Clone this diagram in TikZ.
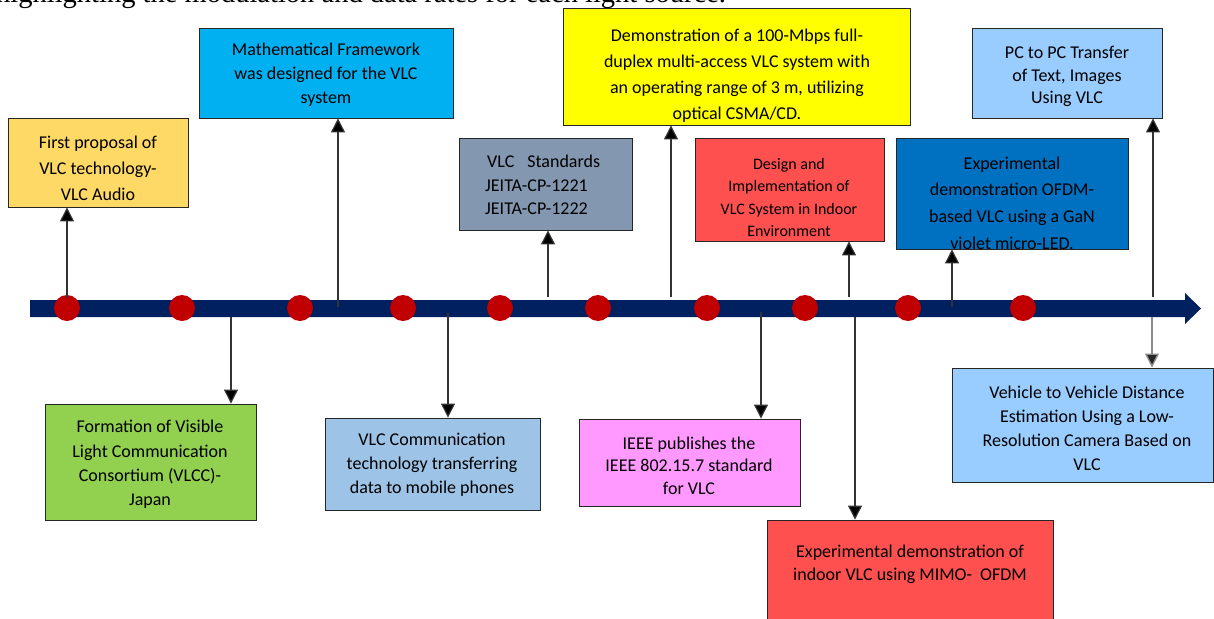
\documentclass[tikz,border=0pt]{standalone}
\usepackage{fontspec}
\setmainfont{Carlito}
\newfontfamily\serifcut{Liberation Serif}
\usetikzlibrary{arrows.meta}
\definecolor{navybar}{HTML}{002060}
\definecolor{dotred}{HTML}{C00000}
\definecolor{cgold}{HTML}{FFD966}
\definecolor{ccyan}{HTML}{00B0F0}
\definecolor{cyellow}{HTML}{FFFF00}
\definecolor{cslate}{HTML}{8497B0}
\definecolor{cred}{HTML}{FF5050}
\definecolor{cdblue}{HTML}{0070C0}
\definecolor{clblue}{HTML}{99CCFF}
\definecolor{cgreen}{HTML}{92D050}
\definecolor{csteel}{HTML}{9DC3E6}
\definecolor{cpink}{HTML}{FF99FF}
\begin{document}
\begin{tikzpicture}[x=1pt,y=-1pt,
  box/.style={draw=black!85, line width=0.9pt, inner sep=0pt},
  txt/.style={inner sep=0pt, align=center, text=black},
  arr/.style={draw=black!80, line width=1.2pt, -{Triangle[width=14pt,length=14pt,fill=black]}},
  grayarr/.style={draw=black!45, line width=1.4pt, -{Triangle[width=14pt,length=14pt,fill=black!85]}},
  tldot/.style={circle, fill=dotred, minimum size=26pt, inner sep=0pt}]
\useasboundingbox (0,0) rectangle (1214,618);
\clip (0,0) rectangle (1214,618);
\fill[white] (0,0) rectangle (1214,618);

% cut-off page text at the top
\node[anchor=base west, inner sep=0pt, font=\serifcut\fontsize{28.5}{30}\selectfont] (pagetext) at (-4,2.5) {highlighting the modulation and data rates for each light source.};

% timeline bar
\fill[navybar] (30,300) -- (1185,300) -- (1185,293) -- (1201,308.5) -- (1185,324) -- (1185,317) -- (30,317) -- cycle;

% dots
\foreach \x [count=\i] in {67,182,300,403,500,598,707,805,908,1023}
  \node[tldot] (dot\i) at (\x,308) {};

% connector start points on the bar
\coordinate (c1) at (67,298);
\coordinate (c2) at (338,307);
\coordinate (c3) at (548,297);
\coordinate (c4) at (671,297);
\coordinate (c5) at (849,297);
\coordinate (c6) at (952,307);
\coordinate (c7) at (1153,297);
\coordinate (e1) at (231,317);
\coordinate (e2) at (448,313);
\coordinate (e3) at (761,312);
\coordinate (e4) at (855,317);
\coordinate (e5) at (1152,317);

% boxes
\node[box, fill=cgold, minimum width=180pt, minimum height=89pt] (b1) at (98,162.5) {};
\node[box, fill=ccyan, minimum width=254pt, minimum height=90pt] (b2) at (326,73) {};
\node[box, fill=cyellow, minimum width=347pt, minimum height=117pt] (b3) at (736.5,66.5) {};
\node[box, fill=cslate, minimum width=173pt, minimum height=92pt] (b4) at (545.5,184) {};
\node[box, fill=cred, minimum width=189pt, minimum height=103pt] (b5) at (789.5,189.5) {};
\node[box, fill=cdblue, minimum width=232pt, minimum height=111pt] (b6) at (1012,193.5) {};
\node[box, fill=clblue, minimum width=190pt, minimum height=90pt] (b7) at (1067,73) {};
\node[box, fill=cgreen, minimum width=211pt, minimum height=116pt] (b8) at (150.5,462) {};
\node[box, fill=csteel, minimum width=215pt, minimum height=92pt] (b9) at (432.5,464) {};
\node[box, fill=cpink, minimum width=221pt, minimum height=87pt] (b10) at (689.5,462.5) {};
\node[box, fill=cred, minimum width=286pt, minimum height=120pt] (b11) at (910,580) {};
\node[box, fill=clblue, minimum width=261pt, minimum height=114pt] (b12) at (1082.5,425) {};

% connectors
\draw[arr] (c1) -- (c1 |- b1.south);
\draw[arr] (c2) -- (c2 |- b2.south);
\draw[arr] (c3) -- (c3 |- b4.south);
\draw[arr] (c4) -- (c4 |- b3.south);
\draw[arr] (c5) -- (c5 |- b5.south);
\draw[arr] (c6) -- (c6 |- b6.south);
\draw[arr] (c7) -- (c7 |- b7.south);
\draw[arr] (e1) -- (e1 |- b8.north);
\draw[arr] (e2) -- (e2 |- b9.north);
\draw[arr] (e3) -- (e3 |- b10.north);
\draw[arr] (e4) -- (e4 |- b11.north);
\draw[grayarr] (e5) -- (e5 |- b12.north);

% texts
\node[txt, font=\fontsize{18}{26}\selectfont] (t1) at (98,168) {First proposal of\\VLC technology-\\VLC Audio};
\node[txt, font=\fontsize{18}{24}\selectfont] (t2) at (326,75) {Mathematical Framework\\was designed for the VLC\\system};
\node[txt, font=\fontsize{18}{26}\selectfont] (t3) at (737,76) {Demonstration of a 100-Mbps full-\\duplex multi-access VLC system with\\an operating range of 3 m, utilizing\\optical CSMA/CD.};
\node[txt, align=left, anchor=west, font=\fontsize{18}{23.5}\selectfont] (t4) at (485,185) {\hspace{2pt}VLC\hspace{13pt}Standards\\JEITA-CP-1221\\JEITA-CP-1222};
\node[txt, font=\fontsize{16}{22.5}\selectfont] (t5) at (789,197.5) {Design and\\Implementation of\\VLC System in Indoor\\Environment};
\node[txt, font=\fontsize{18}{26.7}\selectfont] (t6) at (1012,203) {Experimental\\demonstration OFDM-\\based VLC using a GaN\\violet micro-LED.};
\node[txt, font=\fontsize{18}{22.5}\selectfont] (t7) at (1067,76.5) {PC to PC Transfer\\of Text, Images\\Using VLC};
\node[txt, font=\fontsize{18}{24.3}\selectfont] (t8) at (150,464.5) {Formation of Visible\\Light Communication\\Consortium (VLCC)-\\Japan};
\node[txt, font=\fontsize{18}{24}\selectfont] (t9) at (432,465) {VLC Communication\\technology transferring\\data to mobile phones};
\node[txt, font=\fontsize{18}{22.5}\selectfont] (t10) at (689,465.5) {IEEE publishes the\\IEEE 802.15.7 standard\\for VLC};
\node[txt, font=\fontsize{18}{23}\selectfont] (t11) at (910,564.5) {Experimental demonstration of\\indoor VLC using MIMO-\hspace{8pt}OFDM};
\node[txt, font=\fontsize{18}{24}\selectfont] (t12) at (1087,428) {Vehicle to Vehicle Distance\\Estimation Using a Low-\\Resolution Camera Based on\\VLC};
\end{tikzpicture}
\end{document}
